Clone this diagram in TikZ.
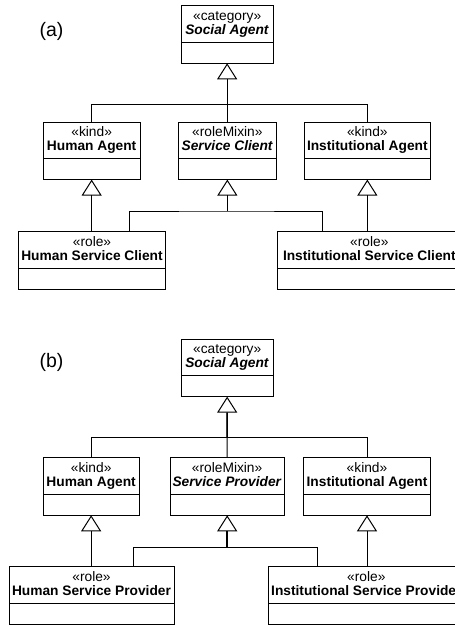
\documentclass[tikz,border=0pt]{standalone}
\usepackage{fontspec}
\setmainfont{Liberation Sans}
\usetikzlibrary{arrows.meta}
\tikzset{
 clsbox/.style={draw, line width=1pt, inner sep=0pt, outer sep=0pt, minimum height=57.6pt, anchor=north west},
 clstext/.style={anchor=base, inner sep=0pt, font=\fontsize{13.75}{14.4}\selectfont},
 conn/.style={line width=1pt},
 thickconn/.style={line width=1.6pt},
 gen/.style={conn, -{Triangle[open, length=16pt, width=20pt]}},
 sublabel/.style={font=\fontsize{19.5}{22}\selectfont, inner sep=0pt},
}
\newcommand\umlclass[6]{%
 \node[clsbox, minimum width={(#3-#2)*1pt}] (#1) at (#2,#4) {};
 \draw[conn] ([yshift=-36.3pt]#1.north west) -- ([yshift=-36.3pt]#1.north east);
 \node[clstext] (#1-st) at ({(#2+#3)/2},{#4+14.3}) {#5};
 \node[clstext] (#1-nm) at ({(#2+#3)/2},{#4+28.7}) {#6};
}
\begin{document}
\begin{tikzpicture}[x=1pt,y=-1pt]
\useasboundingbox (0,0) rectangle (455,625);
\clip (0,0) rectangle (455,625);
% ---------------- (a)
\node[sublabel] (la) at (51.5,31) {(a)};
\umlclass{saA}{181}{273.3}{5.7}{«category»}{\textbf{\textit{Social Agent}}}
\umlclass{haA}{43.3}{140}{122}{«kind»}{\textbf{Human Agent}}
\umlclass{scA}{178.7}{276}{122}{«roleMixin»}{\textbf{\textit{Service Client}}}
\umlclass{iaA}{304}{430.7}{122}{«kind»}{\textbf{Institutional Agent}}
\umlclass{hscA}{18.3}{165.7}{231.7}{«role»}{\textbf{Human Service Client}}
\umlclass{iscA}{277.7}{461}{231.7}{«role»}{\textbf{Institutional Service Client}}
\coordinate (busA) at (227.2,104.3);
\draw[conn] (haA.north) |- (busA) -| (iaA.north);
\draw[gen] (saA.south |- scA.north) -- (saA.south);
\draw[gen] (haA.south |- hscA.north) -- (haA.south);
\draw[gen] (iaA.south |- iscA.north) -- (iaA.south);
\coordinate (rbusA) at (227.3,211);
\coordinate (hscAj) at (129,231.7);
\coordinate (iscAj) at (322.3,231.7);
\draw[conn] (hscAj) |- (rbusA) -| (iscAj);
\draw[gen] (scA.south |- rbusA) -- (scA.south);
% ---------------- (b)
\node[sublabel] (lb) at (51.5,362) {(b)};
\umlclass{saB}{181}{273.3}{339}{«category»}{\textbf{\textit{Social Agent}}}
\umlclass{haB}{43.3}{139}{457.7}{«kind»}{\textbf{Human Agent}}
\umlclass{spB}{170.3}{284}{457.7}{«roleMixin»}{\textbf{\textit{Service Provider}}}
\umlclass{iaB}{303.7}{430.3}{457.7}{«kind»}{\textbf{Institutional Agent}}
\umlclass{hspB}{9}{174}{566.7}{«role»}{\textbf{Human Service Provider}}
\umlclass{ispB}{268.7}{464}{566.7}{«role»}{\textbf{Institutional Service Provider}}
\coordinate (busB) at (227.2,437.7);
\draw[conn] (haB.north) |- (busB) -| (iaB.north);
\draw[conn] (saB.south |- spB.north) -- (busB);
\draw[thickconn] (busB) -- ([yshift=-16pt]saB.south);
\draw[gen] (busB) -- (saB.south);
\draw[gen] (haB.south |- hspB.north) -- (haB.south);
\draw[gen] (iaB.south |- ispB.north) -- (iaB.south);
\coordinate (rbusB) at (227.2,547.3);
\coordinate (hspBj) at (133.3,566.7);
\coordinate (ispBj) at (317.3,566.7);
\draw[conn] (hspBj) |- (rbusB) -| (ispBj);
\draw[thickconn] (rbusB) -- ([yshift=-16pt]spB.south -| rbusB);
\draw[gen] (rbusB) -- (rbusB |- spB.south);
\end{tikzpicture}
\end{document}
